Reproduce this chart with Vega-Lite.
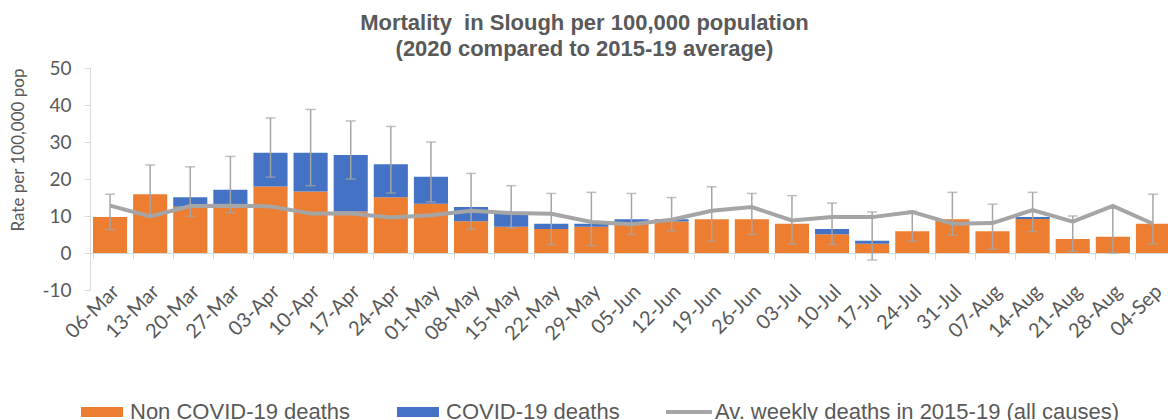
{
  "$schema": "https://vega.github.io/schema/vega-lite/v6.json",
  "width": 1083,
  "height": 222,
  "autosize": "none",
  "padding": {"left": 90, "top": 68, "right": 0, "bottom": 130},
  "background": "white",
  "title": {
    "text": ["Mortality\u00a0 in Slough per 100,000 population", "(2020 compared to 2015-19 average)"],
    "font": "Liberation Sans",
    "fontSize": 22,
    "fontWeight": "bold",
    "color": "#595959",
    "anchor": "middle",
    "dx": -47,
    "offset": -2,
    "lineHeight": 26
  },
  "config": {
    "view": {"stroke": null},
    "axis": {"grid": false, "domainColor": "#D9D9D9", "tickColor": "#D9D9D9", "tickSize": 6, "labelColor": "#595959", "labelFont": "Lato", "labelFontSize": 19, "titleColor": "#595959", "titleFont": "Lato"},
    "axisY": {"values": [-10, 0, 10, 20, 30, 40, 50], "labelExpr": "'' + datum.value", "titleFontSize": 17, "titleFontWeight": "normal", "labelPadding": 13, "titlePadding": 14, "titleAnchor": "end", "labelOverlap": false}
  },
  "datasets": {
    "bars": [
      {"week": "06-Mar", "type": "Non COVID-19 deaths", "rate": 9.7},
      {"week": "13-Mar", "type": "Non COVID-19 deaths", "rate": 15.9},
      {"week": "20-Mar", "type": "Non COVID-19 deaths", "rate": 12.5},
      {"week": "20-Mar", "type": "COVID-19 deaths", "rate": 2.6},
      {"week": "27-Mar", "type": "Non COVID-19 deaths", "rate": 12.5},
      {"week": "27-Mar", "type": "COVID-19 deaths", "rate": 4.6},
      {"week": "03-Apr", "type": "Non COVID-19 deaths", "rate": 18.0},
      {"week": "03-Apr", "type": "COVID-19 deaths", "rate": 9.1},
      {"week": "10-Apr", "type": "Non COVID-19 deaths", "rate": 16.6},
      {"week": "10-Apr", "type": "COVID-19 deaths", "rate": 10.5},
      {"week": "17-Apr", "type": "Non COVID-19 deaths", "rate": 11.2},
      {"week": "17-Apr", "type": "COVID-19 deaths", "rate": 15.3},
      {"week": "24-Apr", "type": "Non COVID-19 deaths", "rate": 15.1},
      {"week": "24-Apr", "type": "COVID-19 deaths", "rate": 8.9},
      {"week": "01-May", "type": "Non COVID-19 deaths", "rate": 13.3},
      {"week": "01-May", "type": "COVID-19 deaths", "rate": 7.3},
      {"week": "08-May", "type": "Non COVID-19 deaths", "rate": 8.6},
      {"week": "08-May", "type": "COVID-19 deaths", "rate": 3.8},
      {"week": "15-May", "type": "Non COVID-19 deaths", "rate": 7.1},
      {"week": "15-May", "type": "COVID-19 deaths", "rate": 3.7},
      {"week": "22-May", "type": "Non COVID-19 deaths", "rate": 6.5},
      {"week": "22-May", "type": "COVID-19 deaths", "rate": 1.4},
      {"week": "29-May", "type": "Non COVID-19 deaths", "rate": 7.1},
      {"week": "29-May", "type": "COVID-19 deaths", "rate": 0.8},
      {"week": "05-Jun", "type": "Non COVID-19 deaths", "rate": 8.3},
      {"week": "05-Jun", "type": "COVID-19 deaths", "rate": 0.8},
      {"week": "12-Jun", "type": "Non COVID-19 deaths", "rate": 8.5},
      {"week": "12-Jun", "type": "COVID-19 deaths", "rate": 0.6},
      {"week": "19-Jun", "type": "Non COVID-19 deaths", "rate": 9.1},
      {"week": "26-Jun", "type": "Non COVID-19 deaths", "rate": 9.1},
      {"week": "03-Jul", "type": "Non COVID-19 deaths", "rate": 7.9},
      {"week": "10-Jul", "type": "Non COVID-19 deaths", "rate": 5.1},
      {"week": "10-Jul", "type": "COVID-19 deaths", "rate": 1.4},
      {"week": "17-Jul", "type": "Non COVID-19 deaths", "rate": 2.5},
      {"week": "17-Jul", "type": "COVID-19 deaths", "rate": 0.8},
      {"week": "24-Jul", "type": "Non COVID-19 deaths", "rate": 5.9},
      {"week": "31-Jul", "type": "Non COVID-19 deaths", "rate": 9.1},
      {"week": "07-Aug", "type": "Non COVID-19 deaths", "rate": 5.9},
      {"week": "14-Aug", "type": "Non COVID-19 deaths", "rate": 9.2},
      {"week": "14-Aug", "type": "COVID-19 deaths", "rate": 0.5},
      {"week": "21-Aug", "type": "Non COVID-19 deaths", "rate": 3.8},
      {"week": "28-Aug", "type": "Non COVID-19 deaths", "rate": 4.4},
      {"week": "04-Sep", "type": "Non COVID-19 deaths", "rate": 7.9}
    ],
    "weekly": [
      {"week": "06-Mar", "avg": 12.8, "lo": 6.3, "hi": 15.9},
      {"week": "13-Mar", "avg": 9.9, "lo": 9.9, "hi": 23.8},
      {"week": "20-Mar", "avg": 12.7, "lo": 9.9, "hi": 23.3},
      {"week": "27-Mar", "avg": 12.8, "lo": 10.9, "hi": 26.1},
      {"week": "03-Apr", "avg": 12.6, "lo": 20.5, "hi": 36.5},
      {"week": "10-Apr", "avg": 10.7, "lo": 18.2, "hi": 38.8},
      {"week": "17-Apr", "avg": 10.7, "lo": 20.0, "hi": 35.7},
      {"week": "24-Apr", "avg": 9.6, "lo": 16.2, "hi": 34.2},
      {"week": "01-May", "avg": 10.2, "lo": 13.8, "hi": 30.0},
      {"week": "08-May", "avg": 11.4, "lo": 6.4, "hi": 21.5},
      {"week": "15-May", "avg": 10.8, "lo": 6.8, "hi": 18.2},
      {"week": "22-May", "avg": 10.6, "lo": 2.3, "hi": 16.1},
      {"week": "29-May", "avg": 8.4, "lo": 2.0, "hi": 16.4},
      {"week": "05-Jun", "avg": 7.8, "lo": 5.0, "hi": 16.1},
      {"week": "12-Jun", "avg": 9.0, "lo": 6.0, "hi": 15.0},
      {"week": "19-Jun", "avg": 11.4, "lo": 3.2, "hi": 17.9},
      {"week": "26-Jun", "avg": 12.4, "lo": 5.0, "hi": 16.1},
      {"week": "03-Jul", "avg": 8.8, "lo": 2.5, "hi": 15.5},
      {"week": "10-Jul", "avg": 9.7, "lo": 2.3, "hi": 13.5},
      {"week": "17-Jul", "avg": 9.7, "lo": -1.9, "hi": 11.1},
      {"week": "24-Jul", "avg": 11.1, "lo": 3.2, "hi": 11.3},
      {"week": "31-Jul", "avg": 7.9, "lo": 4.8, "hi": 16.4},
      {"week": "07-Aug", "avg": 8.1, "lo": 1.1, "hi": 13.2},
      {"week": "14-Aug", "avg": 11.6, "lo": 5.8, "hi": 16.4},
      {"week": "21-Aug", "avg": 8.5, "lo": 0.5, "hi": 10.0},
      {"week": "28-Aug", "avg": 12.7, "lo": 0.0, "hi": 12.5},
      {"week": "04-Sep", "avg": 7.9, "lo": 2.5, "hi": 15.9}
    ]
  },
  "encoding": {
    "x": {
      "field": "week",
      "type": "nominal",
      "scale": {
        "domain": ["06-Mar", "13-Mar", "20-Mar", "27-Mar", "03-Apr", "10-Apr", "17-Apr", "24-Apr", "01-May", "08-May", "15-May", "22-May", "29-May", "05-Jun", "12-Jun", "19-Jun", "26-Jun", "03-Jul", "10-Jul", "17-Jul", "24-Jul", "31-Jul", "07-Aug", "14-Aug", "21-Aug", "28-Aug", "04-Sep"],
        "paddingInner": 0.15,
        "paddingOuter": 0.075
      },
      "axis": {"title": null, "offset": -37, "bandPosition": 0, "labelAngle": -45, "labelPadding": 22, "labelOffset": -1, "labelFontSize": 20}
    }
  },
  "layer": [
    {
      "data": {"name": "bars"},
      "mark": {"type": "bar"},
      "encoding": {
        "y": {
          "field": "rate",
          "type": "quantitative",
          "stack": "zero",
          "scale": {"domain": [-10, 50], "nice": false},
          "axis": {"title": "Rate per 100,000 pop"}
        },
        "color": {
          "field": "type",
          "type": "nominal",
          "scale": {
            "domain": ["Non COVID-19 deaths", "COVID-19 deaths", "Av. weekly deaths in 2015-19 (all causes)"],
            "range": ["#ED7D31", "#4472C4", "#A5A5A5"]
          },
          "legend": {
            "orient": "none",
            "legendX": -15,
            "legendY": 333,
            "direction": "horizontal",
            "title": null,
            "labelFont": "Liberation Sans",
            "labelFontSize": 22,
            "labelColor": "#595959",
            "labelLimit": 0,
            "columnPadding": 40,
            "symbolSize": 100,
            "symbolStrokeWidth": 0,
            "labelOffset": 33,
            "encode": {
              "symbols": {
                "update": {
                  "shape": {"signal": "datum.value === 'Av. weekly deaths in 2015-19 (all causes)' ? 'M-1,-0.4H8.2V0.4H-1Z' : 'M-1,-1H7.4V1H-1Z'"},
                  "fill": {"scale": "color", "field": "value"},
                  "strokeWidth": {"value": 0}
                }
              }
            }
          }
        },
        "order": {"field": "type", "sort": "descending"}
      }
    },
    {
      "data": {"name": "weekly"},
      "mark": {"type": "rule", "color": "#A5A5A5", "strokeWidth": 1.5},
      "encoding": {
        "y": {"field": "lo", "type": "quantitative", "axis": {"title": "Rate per 100,000 pop"}},
        "y2": {"field": "hi"}
      }
    },
    {
      "data": {"name": "weekly"},
      "mark": {"type": "tick", "orient": "horizontal", "size": 10, "thickness": 1.5, "color": "#A5A5A5"},
      "encoding": {"y": {"field": "hi", "type": "quantitative", "axis": {"title": "Rate per 100,000 pop"}}}
    },
    {
      "data": {"name": "weekly"},
      "mark": {"type": "tick", "orient": "horizontal", "size": 10, "thickness": 1.5, "color": "#A5A5A5"},
      "encoding": {"y": {"field": "lo", "type": "quantitative", "axis": {"title": "Rate per 100,000 pop"}}}
    },
    {
      "data": {"name": "weekly"},
      "mark": {"type": "line", "strokeWidth": 4},
      "encoding": {
        "y": {"field": "avg", "type": "quantitative", "axis": {"title": "Rate per 100,000 pop"}},
        "color": {"datum": "Av. weekly deaths in 2015-19 (all causes)", "type": "nominal"}
      }
    }
  ]
}
